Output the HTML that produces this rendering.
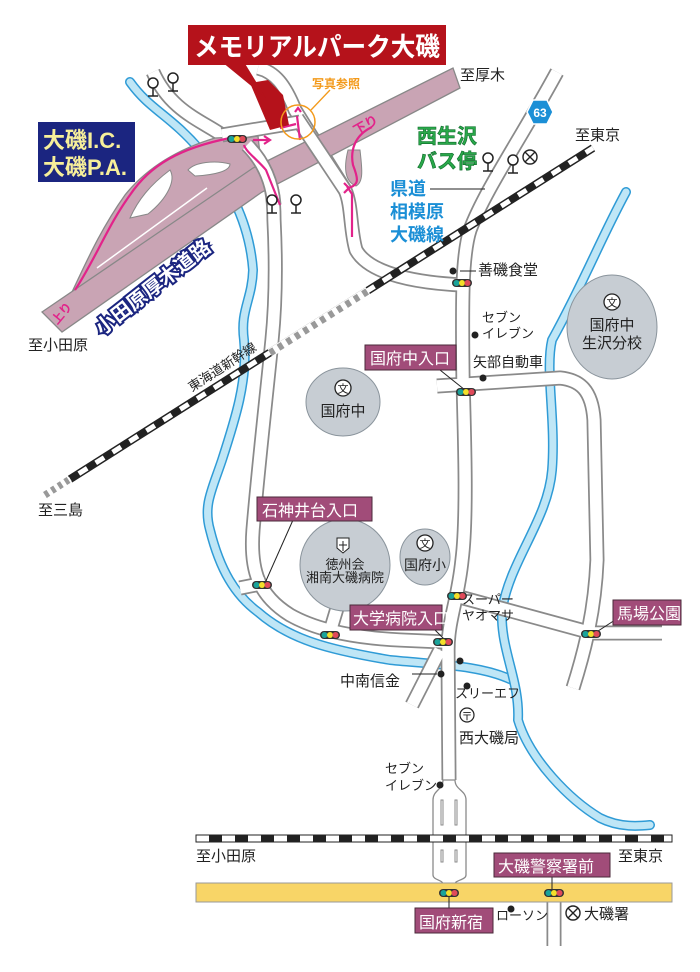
<!DOCTYPE html>
<html><head><meta charset="utf-8"><style>
html,body{margin:0;padding:0;background:#fff;}
svg{display:block;}
text{font-family:"Liberation Sans","Noto Sans CJK JP",sans-serif;}
</style></head><body>
<svg width="700" height="972" viewBox="0 0 700 972" xmlns="http://www.w3.org/2000/svg">
<defs>
<g id="tl"><rect x="-10" y="-4" width="20" height="8" rx="4" fill="#333"/><circle cx="-5.5" cy="0" r="3" fill="#1aa39a"/><circle cx="0" cy="0" r="3" fill="#f3e02a"/><circle cx="5.5" cy="0" r="3" fill="#e04a5a"/></g>
<g id="bus"><circle cx="0" cy="-5" r="5" fill="#fff" stroke="#222" stroke-width="1.5"/><line x1="0" y1="0" x2="0" y2="8" stroke="#222" stroke-width="1.5"/><line x1="-5" y1="8" x2="5" y2="8" stroke="#222" stroke-width="1.5"/></g>
<g id="bun"><circle r="8" fill="#fff" stroke="#222" stroke-width="1.3"/><text x="0" y="4.5" font-size="11" text-anchor="middle" fill="#222">文</text></g>
</defs>

<!-- rivers -->
<g fill="none" stroke-linecap="round" stroke-linejoin="round">
<path d="M130,82 C150,110 170,115 200,150 C235,190 250,230 253,270 C252,300 240,310 244,340 C248,380 235,420 222,460 C212,490 203,505 210,530 C220,570 235,595 258,612 C290,640 330,650 390,660 C440,665 480,665 512,680" stroke="#2f9bd6" stroke-width="10"/>
<path d="M130,82 C150,110 170,115 200,150 C235,190 250,230 253,270 C252,300 240,310 244,340 C248,380 235,420 222,460 C212,490 203,505 210,530 C220,570 235,595 258,612 C290,640 330,650 390,660 C440,665 480,665 512,680" stroke="#bfe6f6" stroke-width="7"/>
<path d="M626,192 C600,240 585,280 552,340 C545,370 556,420 552,470 C548,520 510,560 502,610 C500,650 520,680 518,720 C530,760 570,800 600,818 C620,828 640,826 650,825" stroke="#2f9bd6" stroke-width="10"/>
<path d="M626,192 C600,240 585,280 552,340 C545,370 556,420 552,470 C548,520 510,560 502,610 C500,650 520,680 518,720 C530,760 570,800 600,818 C620,828 640,826 650,825" stroke="#bfe6f6" stroke-width="7"/>
</g>

<!-- roads -->
<g fill="none" stroke-linejoin="round">
<g stroke="#8a8a8a" stroke-width="15">
<path d="M153,72 C170,110 200,120 222,135 C240,140 250,150 262,165 C272,180 274,200 274,220 C276,260 276,300 272,340 C266,400 258,470 253,530 C250,570 258,595 290,615 C320,632 360,638 400,640 L445,642"/>
<path d="M258,68 C275,72 285,85 295,110 L345,190 C352,205 350,230 356,250 C370,275 420,283 463,285"/>
<path d="M557,72 C520,140 485,190 470,230 C462,255 462,300 463,380 C465,450 467,520 462,560 C458,600 448,620 448,650 L449,780"/>
<path d="M437,386 L560,378 C580,380 592,390 594,420 L597,560 C595,610 585,650 573,688"/>
<path d="M456,596 L592,633 L662,633"/>
<path d="M240,588 L265,583"/>
<path d="M329,635 L338,605"/>
<path d="M440,650 L412,705"/>
<path d="M554,900 L554,946"/>
</g>
<g stroke="#fff" stroke-width="11.5">
<path d="M153,72 C170,110 200,120 222,135 C240,140 250,150 262,165 C272,180 274,200 274,220 C276,260 276,300 272,340 C266,400 258,470 253,530 C250,570 258,595 290,615 C320,632 360,638 400,640 L445,642"/>
<path d="M258,68 C275,72 285,85 295,110 L345,190 C352,205 350,230 356,250 C370,275 420,283 463,285"/>
<path d="M557,72 C520,140 485,190 470,230 C462,255 462,300 463,380 C465,450 467,520 462,560 C458,600 448,620 448,650 L449,780"/>
<path d="M437,386 L560,378 C580,380 592,390 594,420 L597,560 C595,610 585,650 573,688"/>
<path d="M456,596 L592,633 L662,633"/>
<path d="M240,588 L265,583"/>
<path d="M329,635 L338,605"/>
<path d="M440,650 L412,705"/>
<path d="M554,900 L554,946"/>
</g>
</g>
<!-- dual carriageway -->
<path d="M443,780 C443,790 433,790 433,800 L433,875 C433,880 443,880 443,884 L455,884 C455,880 466,880 466,875 L466,800 C466,790 455,790 455,780 Z" fill="#fff" stroke="#8a8a8a" stroke-width="1.3"/>
<rect x="441" y="800" width="2" height="25" fill="#fff" stroke="#8a8a8a"/><rect x="455" y="800" width="2" height="25" fill="#fff" stroke="#8a8a8a"/>
<rect x="441" y="850" width="2" height="12" fill="#fff" stroke="#8a8a8a"/><rect x="455" y="850" width="2" height="12" fill="#fff" stroke="#8a8a8a"/>

<!-- highway ramp (IC) -->
<path d="M72,292 C85,265 100,230 125,195 C145,170 175,150 215,138 L258,136 L262,172 L200,205 L100,275 Z" fill="#c9a4b4" stroke="#888" stroke-width="1.3"/>
<path d="M130,218 C138,200 150,185 170,170 C176,180 168,198 148,214 Z" fill="#fff" stroke="#888"/>
<path d="M188,170 C195,162 215,160 230,164 C230,171 215,175 195,176 Z" fill="#fff" stroke="#888"/>
<!-- main band -->
<path d="M42,312 L253,168 L453,68 L460,88 L262,192 L62,332 Z" fill="#c9a4b4" stroke="#888" stroke-width="1.3"/>
<path d="M97,268 L207,188" stroke="#fff" stroke-width="1.5"/>
<!-- right ramp lobe -->
<path d="M348,150 C343,170 346,182 356,186 C364,182 362,168 360,150 Z" fill="#c9a4b4" stroke="#888"/>
<!-- overpass roads across highway -->
<g fill="none">
<path d="M297,118 L345,190" stroke="#8a8a8a" stroke-width="15"/>
<path d="M222,135 L300,122" stroke="#8a8a8a" stroke-width="15"/>
<path d="M247,145 C262,160 272,180 274,205" stroke="#8a8a8a" stroke-width="15"/>
<path d="M297,118 L345,190" stroke="#fff" stroke-width="11.5"/>
<path d="M222,135 L300,122" stroke="#fff" stroke-width="11.5"/>
<path d="M247,145 C262,160 272,180 274,205" stroke="#fff" stroke-width="11.5"/>
</g>

<!-- magenta arrows -->
<g fill="none" stroke="#e2238a" stroke-width="2.2">
<path d="M75,290 C95,260 108,225 130,195 C150,165 180,148 230,138"/>
<path d="M253,140 L268,140"/><path d="M264,136 L270,140 L264,144"/>
<path d="M244,145 C246,152 258,160 266,170 L280,205"/>
<path d="M280,128 L296,124 M297,116 L300,140"/><path d="M295,112 L298,108 L301,112"/>
<path d="M372,127 C355,135 350,150 353,165 C358,178 360,185 348,188 L352,194 L352,237"/>
<path d="M344,183 L349,188 L344,193"/>
</g>
<text x="352" y="128" font-size="13" font-weight="bold" fill="#e2238a" transform="rotate(-30 368 123)">下り</text>
<text x="52" y="322" font-size="12" font-weight="bold" fill="#e2238a" transform="rotate(-50 58 318)">上り</text>

<!-- building & title -->
<path d="M250,83 L268,80 L283,95 L289,125 L270,130 Z" fill="#b5121b"/>
<path d="M222,62 L244,62 L266,98 Z" fill="#b5121b"/>
<rect x="188" y="25" width="258" height="40" fill="#b5121b"/>
<text x="194" y="56" font-size="26" font-weight="bold" fill="#fff" textLength="246" lengthAdjust="spacingAndGlyphs">メモリアルパーク大磯</text>
<circle cx="298" cy="122" r="17" fill="none" stroke="#f39a1b" stroke-width="1.5"/>
<line x1="311" y1="110" x2="330" y2="90" stroke="#f39a1b" stroke-width="1.3"/>
<text x="312" y="88" font-size="12" font-weight="bold" fill="#f39a1b">写真参照</text>

<!-- railways -->
<line x1="45" y1="495" x2="593" y2="148" stroke="#222" stroke-width="8"/>
<line x1="45" y1="495" x2="593" y2="148" stroke="#fff" stroke-width="5" stroke-dasharray="10,10"/>
<line x1="270" y1="353" x2="368" y2="291" stroke="#fff" stroke-width="9"/>
<line x1="270" y1="353" x2="368" y2="291" stroke="#999" stroke-width="7" stroke-dasharray="5,5"/>
<line x1="45" y1="495" x2="70" y2="479" stroke="#fff" stroke-width="9"/>
<line x1="45" y1="495" x2="70" y2="479" stroke="#999" stroke-width="7" stroke-dasharray="4,4"/>
<rect x="196" y="835" width="476" height="7" fill="#fff" stroke="#222" stroke-width="1"/>
<line x1="196" y1="838.5" x2="672" y2="838.5" stroke="#222" stroke-width="6" stroke-dasharray="13,13" stroke-dashoffset="-13"/>
<!-- yellow road -->
<rect x="196" y="883" width="476" height="19" fill="#f8d567" stroke="#999" stroke-width="1"/>

<!-- circles -->
<ellipse cx="612" cy="327" rx="45" ry="52" fill="#c7cdd3" stroke="#8a949c"/>
<ellipse cx="343" cy="402" rx="37" ry="34" fill="#c7cdd3" stroke="#8a949c"/>
<ellipse cx="345" cy="565" rx="45" ry="46" fill="#c7cdd3" stroke="#8a949c"/>
<ellipse cx="425" cy="557" rx="25" ry="28" fill="#c7cdd3" stroke="#8a949c"/>
<use href="#bun" x="612" y="302"/><use href="#bun" x="343" y="388"/><use href="#bun" x="425" y="543"/>
<text x="612" y="330" font-size="15" text-anchor="middle" fill="#222">国府中</text>
<text x="612" y="348" font-size="15" text-anchor="middle" fill="#222">生沢分校</text>
<text x="343" y="416" font-size="15" text-anchor="middle" fill="#222">国府中</text>
<text x="425" y="570" font-size="14" text-anchor="middle" fill="#222">国府小</text>
<path d="M337,538 h12 v10 l-6,5 l-6,-5 Z" fill="#fff" stroke="#222"/><path d="M343,541 v10 M339,545 h8" stroke="#222"/>
<text x="345" y="569" font-size="13" text-anchor="middle" fill="#222">徳州会</text>
<text x="345" y="582" font-size="13" text-anchor="middle" fill="#222">湘南大磯病院</text>

<!-- IC box -->
<rect x="38" y="122" width="97" height="60" fill="#1b2580"/>
<text x="43" y="148" font-size="22" font-weight="bold" fill="#f7ef9a">大磯I.C.</text>
<text x="43" y="175" font-size="22" font-weight="bold" fill="#f7ef9a">大磯P.A.</text>
<text x="102" y="336" font-size="20" font-weight="bold" fill="#fff" stroke="#1b2580" stroke-width="4" paint-order="stroke" transform="rotate(-38 102 336)">小田原厚木道路</text>

<!-- bus stops -->
<use href="#bus" x="153" y="88"/><use href="#bus" x="173" y="83"/>
<use href="#bus" x="272" y="205"/><use href="#bus" x="296" y="205"/>
<use href="#bus" x="488" y="163"/><use href="#bus" x="513" y="165"/>
<g stroke="#222" stroke-width="1.4" fill="#fff"><circle cx="530" cy="157" r="7"/><path d="M525,152 L535,162 M535,152 L525,162"/></g>
<g stroke="#222" stroke-width="1.4" fill="#fff"><circle cx="573" cy="913" r="7"/><path d="M568,908 L578,918 M578,908 L568,918"/></g>

<!-- 63 shield -->
<path d="M533,100 h14 l6,12 l-6,12 h-14 l-6,-12 Z" fill="#1b8fd6" stroke="#fff" stroke-width="1.5"/>
<text x="540" y="117" font-size="12" font-weight="bold" fill="#fff" text-anchor="middle">63</text>

<!-- text labels -->
<g fill="#222" font-size="15">
<text x="460" y="80">至厚木</text>
<text x="575" y="140">至東京</text>
<text x="28" y="350">至小田原</text>
<text x="38" y="515">至三島</text>
<text x="478" y="275">善磯食堂</text>
<text x="482" y="322" font-size="13">セブン</text>
<text x="482" y="338" font-size="13">イレブン</text>
<text x="473" y="367" font-size="14">矢部自動車</text>
<text x="462" y="604" font-size="13">スーパー</text>
<text x="462" y="620" font-size="13">ヤオマサ</text>
<text x="340" y="686">中南信金</text>
<text x="455" y="698" font-size="13">スリーエフ</text>
<text x="459" y="743">西大磯局</text>
<text x="385" y="773" font-size="13">セブン</text>
<text x="385" y="790" font-size="13">イレブン</text>
<text x="196" y="861">至小田原</text>
<text x="618" y="861">至東京</text>
<text x="496" y="920" font-size="13">ローソン</text>
<text x="584" y="919">大磯署</text>
</g>
<text x="192" y="392" font-size="13" fill="#222" transform="rotate(-33 192 392)">東海道新幹線</text>
<text x="417" y="143" font-size="20" font-weight="bold" fill="#2aa84a" stroke="#0d6b2a" stroke-width="0.6">西生沢</text>
<text x="417" y="168" font-size="20" font-weight="bold" fill="#2aa84a" stroke="#0d6b2a" stroke-width="0.6">バス停</text>
<text x="390" y="195" font-size="18" font-weight="bold" fill="#1b8fd6">県道</text>
<text x="390" y="218" font-size="18" font-weight="bold" fill="#1b8fd6">相模原</text>
<text x="390" y="241" font-size="18" font-weight="bold" fill="#1b8fd6">大磯線</text>
<line x1="430" y1="189" x2="485" y2="189" stroke="#222"/>
<line x1="460" y1="271" x2="476" y2="271" stroke="#222"/>
<line x1="412" y1="674" x2="437" y2="674" stroke="#222"/>
<g fill="#222"><circle cx="453" cy="271" r="3.5"/><circle cx="475" cy="335" r="3.5"/><circle cx="483" cy="378" r="3.5"/><circle cx="460" cy="661" r="3.5"/><circle cx="441" cy="674" r="3.5"/><circle cx="467" cy="686" r="3.5"/><circle cx="440" cy="785" r="3.5"/><circle cx="511" cy="909" r="3.5"/></g>
<g fill="#fff" stroke="#222" stroke-width="1.2"><circle cx="467" cy="715" r="7"/></g>
<text x="467" y="720" font-size="11" text-anchor="middle" fill="#222">〒</text>

<!-- magenta intersection labels -->
<g stroke="#222" stroke-width="1">
<line x1="440" y1="370" x2="465" y2="390"/>
<line x1="293" y1="520" x2="265" y2="583"/>
<line x1="435" y1="630" x2="445" y2="640"/>
<line x1="615" y1="620" x2="595" y2="633"/>
<line x1="552" y1="877" x2="552" y2="893"/>
<line x1="449" y1="893" x2="449" y2="909"/>
</g>
<g fill="#a14c79" stroke="#4a2a3a" stroke-width="1">
<rect x="365" y="345" width="91" height="25"/>
<rect x="257" y="497" width="115" height="24"/>
<rect x="350" y="605" width="92" height="25"/>
<rect x="613" y="600" width="68" height="25"/>
<rect x="494" y="853" width="116" height="24"/>
<rect x="415" y="908" width="78" height="25"/>
</g>
<g fill="#fff" font-size="16">
<text x="370" y="364">国府中入口</text>
<text x="262" y="516">石神井台入口</text>
<text x="353" y="624">大学病院入口</text>
<text x="617" y="619">馬場公園</text>
<text x="498" y="872">大磯警察署前</text>
<text x="419" y="928">国府新宿</text>
</g>

<!-- traffic lights -->
<use href="#tl" x="237" y="139"/>
<use href="#tl" x="462" y="283"/>
<use href="#tl" x="466" y="392"/>
<use href="#tl" x="262" y="585"/>
<use href="#tl" x="457" y="596"/>
<use href="#tl" x="330" y="635"/>
<use href="#tl" x="443" y="642"/>
<use href="#tl" x="591" y="634"/>
<use href="#tl" x="449" y="893"/>
<use href="#tl" x="554" y="893"/>
</svg>
</body></html>
